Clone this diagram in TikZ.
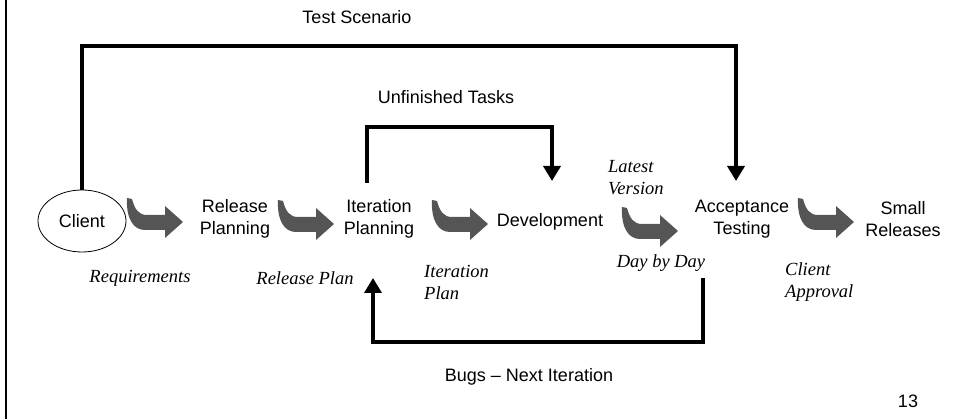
\documentclass[tikz,border=0pt]{standalone}
\usepackage{fontspec}
\setmainfont{Liberation Sans}
\newfontfamily\lblfont{Liberation Serif}
\usetikzlibrary{arrows.meta,shapes.geometric}
\definecolor{arrowgray}{RGB}{85,85,85}
\tikzset{
  stepname/.style={font=\fontsize{18}{22}\selectfont, align=center, inner sep=0pt},
  plainlbl/.style={font=\fontsize{18}{22}\selectfont, inner sep=0pt},
  note/.style={font=\lblfont\itshape\fontsize{18.5}{22}\selectfont, inner sep=0pt},
  flowline/.style={line width=3.5pt},
  flowhead/.style={-{Triangle[width=17pt,length=15pt]}},
  bentarrow/.pic={
    \fill[arrowgray] (0,0) -- (5,1) .. controls (8,12) and (12,17) .. (20,17)
      -- (38,17) -- (38,8) -- (56,24) -- (38,40) -- (38,32) -- (18,32)
      .. controls (6,32) and (-1,20) .. (0,0) -- cycle;
  }
}
\begin{document}
\begin{tikzpicture}[x=1pt,y=-1pt]
\useasboundingbox (0,0) rectangle (959,419);
% left border
\draw[line width=2pt] (6,0) -- (6,419);

% main steps
\node[ellipse, draw, line width=0.8pt, minimum width=88pt, minimum height=62pt, inner sep=0pt, font=\fontsize{18}{22}\selectfont] (client) at (82,221) {Client};
\node[stepname] (rel) at (235,219) {Release\\Planning};
\node[stepname] (iter) at (379,219) {Iteration\\Planning};
\node[stepname] (dev) at (550,222) {Development};
\node[stepname] (acc) at (742,219) {Acceptance\\Testing};
\node[stepname] (small) at (903,219) {Small\\Releases};

% bent arrows
\pic at (127,198) {bentarrow};
\pic at (278,200) {bentarrow};
\pic at (432,200) {bentarrow};
\pic at (622,207) {bentarrow};
\pic at (798,198) {bentarrow};

% italic notes
\node[note] (req) at (140,278) {Requirements};
\node[note] (relplan) at (305,278) {Release Plan};
\node[note, anchor=west, align=left] (iterplan) at (424,282) {Iteration\\Plan};
\node[note, anchor=west, align=left] (latest) at (608,178) {Latest\\Version};
\node[note] (daybyday) at (661,263) {Day by Day};
\node[note, anchor=west, align=left] (approval) at (785,282) {Client\\Approval};

% loop labels
\node[plainlbl] (tslbl) at (357,17) {Test Scenario};
\node[plainlbl] (uflbl) at (446,97) {Unfinished Tasks};
\node[plainlbl] (buglbl) at (529,377) {Bugs – Next Iteration};
\node[plainlbl] (pagenum) at (908,401) {13};

% connector coordinates
\coordinate (tscorner) at (736,46);
\coordinate (accin) at (736,181);
\coordinate (itout) at (367,183);
\coordinate (ufcorner) at (552,127);
\coordinate (devin) at (552,181);
\coordinate (ddout) at (703,278);
\coordinate (bugcorner) at (373,342);
\coordinate (itin) at (373,278);

% loops
\draw[flowline,flowhead] (client.north) |- (tscorner) -- (accin);
\draw[flowline,flowhead] (itout) |- (ufcorner) -- (devin);
\draw[flowline,flowhead] (ddout) |- (bugcorner) -- (itin);
\end{tikzpicture}
\end{document}
